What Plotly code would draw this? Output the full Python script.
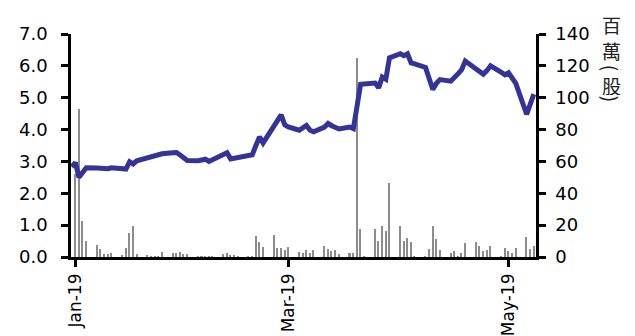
import plotly.graph_objects as go

# Trading dates (weekdays) for the period shown
dates = [
    "2018-12-31", "2019-01-01", "2019-01-02", "2019-01-03", "2019-01-04",
    "2019-01-07", "2019-01-08", "2019-01-09", "2019-01-10", "2019-01-11",
    "2019-01-14", "2019-01-15", "2019-01-16", "2019-01-17", "2019-01-18",
    "2019-01-21", "2019-01-22", "2019-01-23", "2019-01-24", "2019-01-25",
    "2019-01-28", "2019-01-29", "2019-01-30", "2019-01-31", "2019-02-01",
    "2019-02-04", "2019-02-05", "2019-02-06", "2019-02-07", "2019-02-08",
    "2019-02-11", "2019-02-12", "2019-02-13", "2019-02-14", "2019-02-15",
    "2019-02-18", "2019-02-19", "2019-02-20", "2019-02-21", "2019-02-22",
    "2019-02-25", "2019-02-26", "2019-02-27", "2019-02-28", "2019-03-01",
    "2019-03-04", "2019-03-05", "2019-03-06", "2019-03-07", "2019-03-08",
    "2019-03-11", "2019-03-12", "2019-03-13", "2019-03-14", "2019-03-15",
    "2019-03-18", "2019-03-19", "2019-03-20", "2019-03-21", "2019-03-22",
    "2019-03-25", "2019-03-26", "2019-03-27", "2019-03-28", "2019-03-29",
    "2019-04-01", "2019-04-02", "2019-04-03", "2019-04-04", "2019-04-05",
    "2019-04-08", "2019-04-09", "2019-04-10", "2019-04-11", "2019-04-12",
    "2019-04-15", "2019-04-16", "2019-04-17", "2019-04-18", "2019-04-19",
    "2019-04-22", "2019-04-23", "2019-04-24", "2019-04-25", "2019-04-26",
    "2019-04-29", "2019-04-30", "2019-05-01", "2019-05-02", "2019-05-03",
    "2019-05-06", "2019-05-07", "2019-05-08",
]

# Closing price (left axis)
price = [
    2.83, 2.96, 2.50, 2.68, 2.80,
    2.79, 2.78, 2.78, 2.77, 2.80,
    2.77, 2.76, 2.99, 2.92, 3.02,
    3.11, 3.14, 3.17, 3.21, 3.24,
    3.27, 3.28, 3.20, 3.11, 3.03,
    3.02, 3.04, 3.07, 3.00, 3.05,
    3.22, 3.27, 3.08, 3.10, 3.12,
    3.18, 3.21, 3.50, 3.77, 3.58,
    4.12, 4.30, 4.46, 4.15, 4.08,
    3.98, 4.05, 4.13, 3.98, 3.93,
    4.08, 4.19, 4.12, 4.06, 4.02,
    4.08, 4.03, 4.72, 5.42, 5.43,
    5.46, 5.31, 5.65, 5.58, 6.25,
    6.38, 6.32, 6.38, 6.09, 6.06,
    5.95, 5.60, 5.26, 5.45, 5.57,
    5.52, 5.62, 5.75, 5.88, 6.15,
    5.90, 5.80, 5.74, 5.85, 6.00,
    5.80, 5.72, 5.78, 5.62, 5.45,
    4.48, 4.82, 5.11,
]

# Daily volume in millions of shares (right axis)
volume = [
    0.0, 52.0, 93.0, 22.6, 10.0,
    7.3, 5.0, 1.9, 1.9, 2.5,
    1.0, 5.4, 14.8, 19.2, 1.9,
    0.8, 0.3, 0.3, 0.3, 3.1,
    2.3, 2.5, 3.1, 1.6, 1.6,
    0.3, 0.3, 0.3, 0.3, 0.3,
    1.6, 2.5, 1.3, 1.3, 0.3,
    0.3, 0.3, 13.2, 9.2, 6.3,
    13.6, 5.6, 5.6, 4.6, 6.3,
    3.1, 2.5, 4.4, 2.3, 4.3,
    6.7, 5.2, 3.6, 4.4, 1.9,
    2.7, 2.7, 125.0, 17.3, 0.3,
    17.6, 10.2, 19.2, 16.1, 46.6,
    19.4, 9.8, 11.7, 9.6, 0.3,
    0.3, 5.2, 19.2, 11.3, 4.6,
    2.5, 3.6, 0.3, 2.5, 8.8,
    9.2, 6.9, 3.8, 4.4, 6.9,
    0.3, 5.6, 3.8, 2.3, 5.4,
    12.3, 5.0, 6.9,
]

tick_dates = ["2019-01-01", "2019-03-01", "2019-05-01"]
tick_labels = ["Jan-19", "Mar-19", "May-19"]
price_ticks = [0, 1, 2, 3, 4, 5, 6, 7]
volume_ticks = [0, 20, 40, 60, 80, 100, 120, 140]

# Vertical unit label "百萬(股)" for the volume axis, stacked one glyph per row:
# (glyph, centre y in paper units, rotation, box height)
unit_chars = [
    ("百", 1.045, 0, 22),
    ("萬", 0.928, 0, 22),
    ("(", 0.850, 90, None),
    ("股", 0.771, 0, 19),
    (")", 0.711, 90, None),
]

TICK_FONT = dict(family="DejaVu Sans", size=18, color="#000000")
DAY_MS = 86400000

fig = go.Figure()

# Volume bars sit on the primary y axis so the price line is drawn on top
fig.add_trace(go.Bar(
    x=dates, y=volume, yaxis="y",
    marker=dict(color="#8c8c8c", line=dict(width=0)),
    width=0.42 * DAY_MS,
    showlegend=False,
))

fig.add_trace(go.Scatter(
    x=dates, y=price, yaxis="y2", mode="lines",
    line=dict(color="#333399", width=5),
    showlegend=False,
))

axis_common = dict(
    showgrid=False, zeroline=False, showline=True, automargin=False,
    linecolor="#000000", linewidth=2.5,
    ticks="outside", ticklen=7, tickwidth=2.5, tickcolor="#000000",
)

fig.update_layout(
    width=635, height=336,
    margin=dict(l=71, r=99, t=34, b=79, pad=0),
    paper_bgcolor="#ffffff", plot_bgcolor="#ffffff",
    bargap=0,
    xaxis=dict(
        type="date",
        range=["2018-12-30 18:40", "2019-05-08 14:20"],
        tickmode="array", tickvals=tick_dates, ticktext=tick_labels,
        tickangle=-90,
        tickfont=dict(family="DejaVu Sans", size=17, color="#000000"),
        **axis_common,
    ),
    yaxis=dict(
        side="right", range=[0, 140],
        tickmode="array", tickvals=volume_ticks,
        ticklabelstandoff=6,
        tickfont=TICK_FONT,
        **axis_common,
    ),
    yaxis2=dict(
        side="left", overlaying="y", range=[0, 7],
        tickmode="array", tickvals=price_ticks, tickformat=".1f",
        ticklabelstandoff=10,
        tickfont=TICK_FONT,
        **axis_common,
    ),
    annotations=[
        dict(
            text=ch, xref="paper", yref="paper", x=1.163, y=yc,
            xanchor="center", yanchor="middle", showarrow=False,
            textangle=ang, height=h, valign="middle",
            font=dict(family="Noto Sans CJK TC", size=19, color="#222222"),
        )
        for ch, yc, ang, h in unit_chars
    ],
)

fig.write_html("out.html")
